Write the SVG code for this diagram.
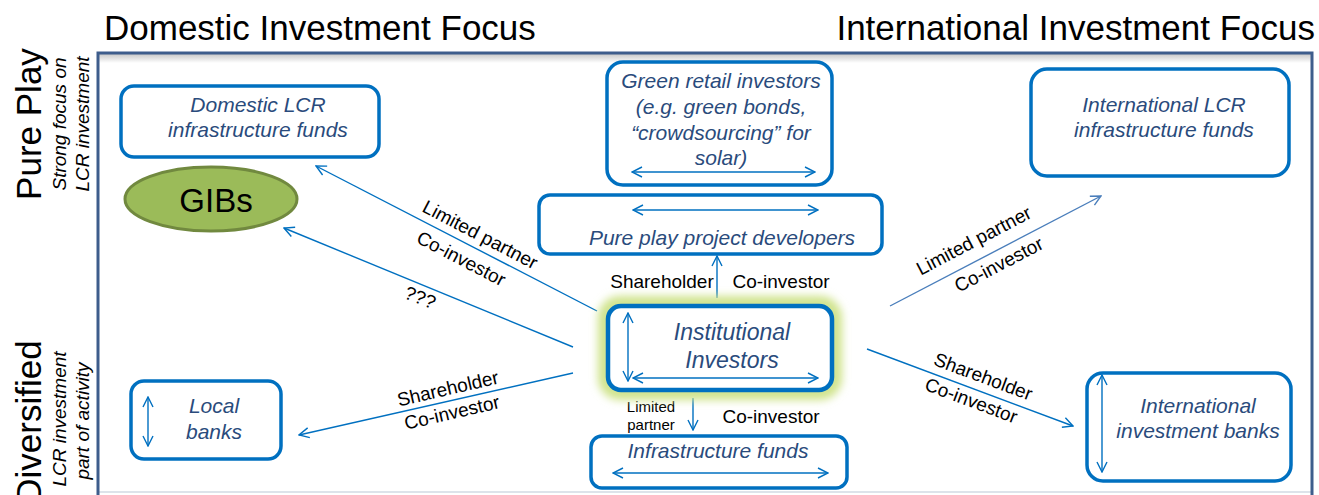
<svg xmlns="http://www.w3.org/2000/svg" width="1319" height="495" viewBox="0 0 1319 495">
<style>
.box{fill:#fff;stroke:#0070c0;stroke-width:3.5}
.nt{font-family:"Liberation Sans",Arial,sans-serif;font-style:italic;font-size:21px;fill:#2a4b7c;text-anchor:middle}
.lbl{font-family:"Liberation Sans",Arial,sans-serif;font-size:19px;fill:#000;text-anchor:middle}
.conn{stroke:#0070c0;stroke-width:1.4;fill:none;marker-end:url(#ah)}
.dbl{stroke:#0070c0;stroke-width:1.4;fill:none;marker-start:url(#ah);marker-end:url(#ah)}
.head{font-family:"Liberation Sans",Arial,sans-serif;font-size:35px;fill:#000}
.side{font-family:"Liberation Sans",Arial,sans-serif;font-size:35px;fill:#000;text-anchor:middle}
.sub{font-family:"Liberation Sans",Arial,sans-serif;font-style:italic;font-size:19px;fill:#000;text-anchor:middle}
</style>
<defs>
<marker id="ah" viewBox="0 0 12 12" refX="11" refY="6" markerWidth="12" markerHeight="12" markerUnits="userSpaceOnUse" orient="auto-start-reverse">
<path d="M1,1 L11,6 L1,11" fill="none" stroke="#0070c0" stroke-width="1.4"/>
</marker>
<marker id="ah2" viewBox="0 0 12 12" refX="11" refY="6" markerWidth="12" markerHeight="12" markerUnits="userSpaceOnUse" orient="auto">
<path d="M1,1 L11,6 L1,11" fill="none" stroke="#4a7ebb" stroke-width="1.4"/>
</marker>
<filter id="glow" x="-20%" y="-30%" width="140%" height="160%">
<feGaussianBlur stdDeviation="4.5"/>
</filter>
<linearGradient id="shadow" x1="0" y1="0" x2="0" y2="1">
<stop offset="0" stop-color="#c8c8c8"/>
<stop offset="1" stop-color="#ffffff"/>
</linearGradient>
</defs>

<rect x="0" y="0" width="1319" height="495" fill="#fff"/>

<g id="headings">
<text class="head" x="104" y="40">Domestic Investment Focus</text>
<text class="head" x="1315" y="40" text-anchor="end">International Investment Focus</text>
</g>

<g id="side-labels">
<text class="side" transform="translate(41,124) rotate(-90)">Pure Play</text>
<text class="sub" transform="translate(66,124) rotate(-90)">Strong focus on</text>
<text class="sub" transform="translate(89,124) rotate(-90)">LCR investment</text>
<text class="side" transform="translate(41,422) rotate(-90)">Diversified</text>
<text class="sub" transform="translate(66,419) rotate(-90)">LCR investment</text>
<text class="sub" transform="translate(89,421) rotate(-90)">part of activity</text>
</g>

<g id="frame">
<rect x="98" y="53" width="1214" height="440" fill="#fff"/>
<rect x="99" y="54" width="1212" height="9" fill="url(#shadow)"/>
<line x1="99" y1="492" x2="1311" y2="492" stroke="#dde3ea" stroke-width="2"/>
<rect x="98" y="53" width="1214" height="460" fill="none" stroke="#3e5d8c" stroke-width="3"/>
</g>

<g id="connectors">
<line class="conn" x1="597" y1="311" x2="316" y2="166"/>
<line class="conn" x1="573" y1="347" x2="284" y2="228"/>
<line class="conn" x1="573" y1="373" x2="299" y2="435"/>
<line class="conn" x1="717" y1="298" x2="717" y2="256"/>
<line x1="890" y1="306" x2="1101" y2="196" stroke="#4a7ebb" stroke-width="1.4" marker-end="url(#ah2)"/>
<line class="conn" x1="867" y1="349" x2="1073" y2="426"/>
<line class="conn" x1="693" y1="398" x2="693" y2="430"/>
<text class="lbl" transform="translate(480,235) rotate(27.5)" y="6">Limited partner</text>
<text class="lbl" transform="translate(461,259) rotate(27.5)" y="6">Co-investor</text>
<text class="lbl" transform="translate(420,298) rotate(22)" y="6">???</text>
<text class="lbl" transform="translate(448,389) rotate(-13)" y="6">Shareholder</text>
<text class="lbl" transform="translate(452,413) rotate(-13)" y="6">Co-investor</text>
<text class="lbl" x="662" y="288">Shareholder</text>
<text class="lbl" x="781" y="288">Co-investor</text>
<text class="lbl" transform="translate(974,241) rotate(-27.6)" y="6">Limited partner</text>
<text class="lbl" transform="translate(999,265) rotate(-27.6)" y="6">Co-investor</text>
<text class="lbl" transform="translate(983,377) rotate(20.5)" y="6">Shareholder</text>
<text class="lbl" transform="translate(971,401) rotate(20.5)" y="6">Co-investor</text>
<text class="lbl" x="651" y="412" style="font-size:15px">Limited</text>
<text class="lbl" x="651" y="430" style="font-size:15px">partner</text>
<text class="lbl" x="771" y="423">Co-investor</text>
</g>

<g id="domestic-lcr">
<rect class="box" x="121" y="86" width="258" height="71" rx="13"/>
<text class="nt" x="258" y="112">Domestic LCR</text>
<text class="nt" x="258" y="137">infrastructure funds</text>
</g>

<g id="gibs">
<ellipse cx="211" cy="199" rx="86" ry="32" fill="#9bbb59" stroke="#71893f" stroke-width="3"/>
<text x="216" y="212" font-family="Liberation Sans, Arial, sans-serif" font-size="33" text-anchor="middle" fill="#000">GIBs</text>
</g>

<g id="green-retail">
<rect class="box" x="607" y="62" width="225" height="123" rx="16"/>
<text class="nt" x="721" y="88">Green retail investors</text>
<text class="nt" x="721" y="114">(e.g. green bonds,</text>
<text class="nt" x="721" y="140">“crowdsourcing” for</text>
<text class="nt" x="721" y="165">solar)</text>
<line class="dbl" x1="632" y1="172" x2="815" y2="172"/>
</g>

<g id="pure-play">
<rect class="box" x="539" y="195" width="343" height="59" rx="11"/>
<line class="dbl" x1="633" y1="210" x2="818" y2="210"/>
<text class="nt" x="722" y="245">Pure play project developers</text>
</g>

<g id="international-lcr">
<rect class="box" x="1031" y="69" width="258" height="107" rx="16"/>
<text class="nt" x="1164" y="112">International LCR</text>
<text class="nt" x="1164" y="137">infrastructure funds</text>
</g>

<g id="institutional">
<rect x="605" y="303" width="230" height="90" rx="15" fill="none" stroke="#cfe38a" stroke-width="14" filter="url(#glow)"/>
<rect x="608" y="306" width="224" height="84" rx="13" fill="#fff" stroke="#0070c0" stroke-width="4.5"/>
<text class="nt" x="732" y="340" style="font-size:23px">Institutional</text>
<text class="nt" x="732" y="368" style="font-size:23px">Investors</text>
<line class="dbl" x1="628" y1="313" x2="628" y2="381"/>
<line class="dbl" x1="633" y1="378" x2="818" y2="378"/>
</g>

<g id="local-banks">
<rect class="box" x="131" y="381" width="150" height="78" rx="13"/>
<line class="dbl" x1="148" y1="397" x2="148" y2="446"/>
<text class="nt" x="214" y="413">Local</text>
<text class="nt" x="214" y="439">banks</text>
</g>

<g id="infrastructure-funds">
<rect class="box" x="591" y="436" width="256" height="52" rx="11"/>
<text class="nt" x="718" y="458">Infrastructure funds</text>
<line class="dbl" x1="613" y1="473" x2="828" y2="473"/>
</g>

<g id="international-banks">
<rect class="box" x="1087" y="373" width="204" height="108" rx="16"/>
<line class="dbl" x1="1102" y1="375" x2="1102" y2="472"/>
<text class="nt" x="1198" y="413">International</text>
<text class="nt" x="1198" y="438">investment banks</text>
</g>
</svg>
